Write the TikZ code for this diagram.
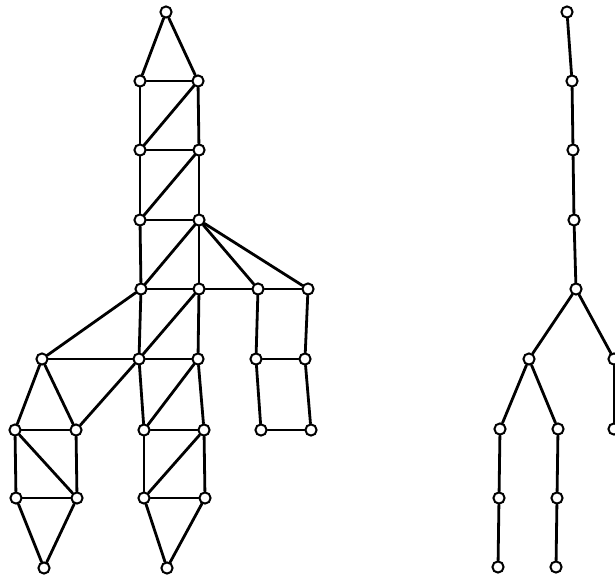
\documentclass[tikz,border=0pt]{standalone}
\usepackage{tikz}
\begin{document}
\begin{tikzpicture}[x=0.5mm,y=-0.5mm,
    vertice/.style={circle,draw,fill=white,inner sep=0pt,minimum size=5.6mm,
                    line width=1mm},
    arista/.style={line width=1.4mm,line cap=round}]
  \useasboundingbox (0,0) rectangle (615,579);

  % grafo de la izquierda
  \foreach \n/\x/\y in {t/166/12,
      a1/140/81, a2/198/81,
      b1/140/150, b2/199/150,
      c1/140/220, c2/199/220,
      d1/141/289, d2/199/289, d3/258/289, d4/308/289,
      e1/42/359, e2/139/359, e3/198/359, e4/256/359, e5/305/359,
      f1/15/430, f2/76/430, f3/144/430, f4/204/430, f5/261/430, f6/311/430,
      g1/16/498, g2/77/498, g3/144/498, g4/205/498,
      h1/44/568, h2/167/568}
    \node[vertice] (\n) at (\x,\y) {};

  % grafo de la derecha (arbol)
  \foreach \n/\x/\y in {p0/567/12, p1/572/81, p2/573/150, p3/574/220, p4/576/289,
      q1/529/359, q2/614/359,
      r1/500/429, r2/558/429, r3/614/429,
      s1/499/498, s2/557/498,
      u1/498/567, u2/556/567}
    \node[vertice] (\n) at (\x,\y) {};

  \foreach \u/\v in {t/a1, t/a2, a1/a2, a1/b1, a2/b2, a2/b1,
      b1/b2, b1/c1, b2/c2, b2/c1, c1/c2, c1/d1, c2/d2, c2/d1, c2/d3, c2/d4,
      d1/d2, d2/d3, d3/d4, d1/e1, d1/e2, d2/e2, d2/e3,
      e1/e2, e2/e3, e2/f2, e1/f1, e1/f2, e2/f3, e3/f3, e3/f4,
      d3/e4, d4/e5, e4/e5, e4/f5, e5/f6, f5/f6,
      f1/f2, f1/g1, f2/g2, f1/g2, g1/g2, g1/h1, g2/h1,
      f3/f4, f3/g3, f4/g4, f4/g3, g3/g4, g3/h2, g4/h2,
      p0/p1, p1/p2, p2/p3, p3/p4, p4/q1, p4/q2,
      q1/r1, q1/r2, q2/r3, r1/s1, r2/s2, s1/u1, s2/u2}
    \draw[arista] (\u) -- (\v);
\end{tikzpicture}
\end{document}
